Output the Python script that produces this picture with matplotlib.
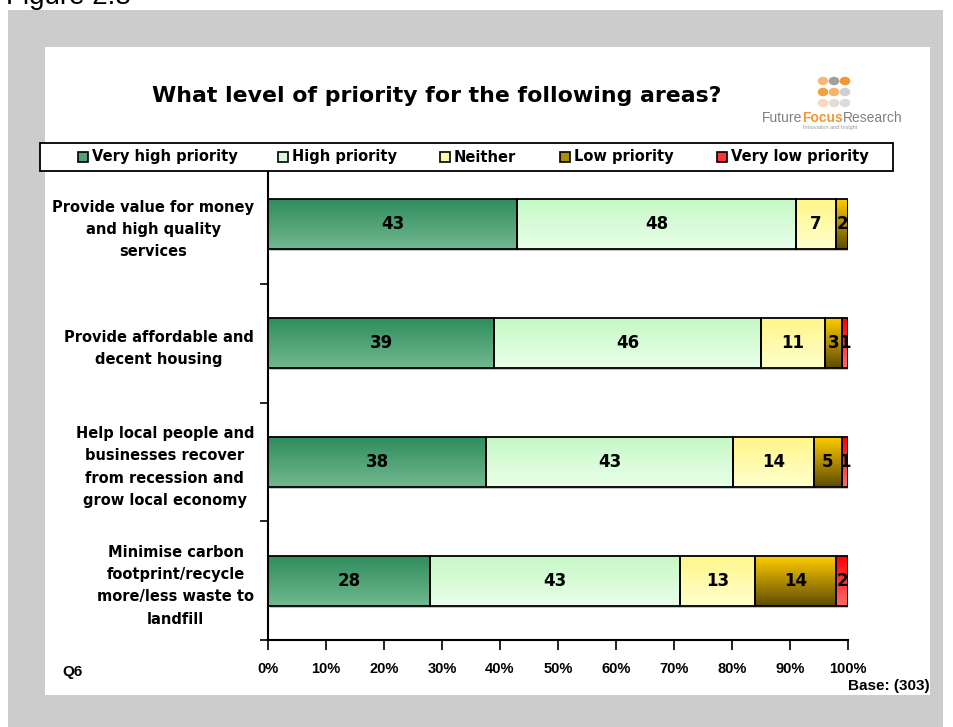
import numpy as np
import matplotlib
matplotlib.use("Agg")
import matplotlib.pyplot as plt
from matplotlib.patches import Rectangle
from matplotlib.transforms import ScaledTranslation

# ---------------- data ----------------
categories = [
    "Provide value for money\nand high quality\nservices",
    "Provide affordable and\ndecent housing",
    "Help local people and\nbusinesses recover\nfrom recession and\ngrow local economy",
    "Minimise carbon\nfootprint/recycle\nmore/less waste to\nlandfill",
]
series_names = ["Very high priority", "High priority", "Neither", "Low priority", "Very low priority"]
very_high = [43, 39, 38, 28]
high = [48, 46, 43, 43]
neither = [7, 11, 14, 13]
low = [2, 3, 5, 14]
very_low = [0, 1, 1, 2]
xtick_values = [0, 10, 20, 30, 40, 50, 60, 70, 80, 90, 100]
xtick_labels = ["0%", "10%", "20%", "30%", "40%", "50%", "60%", "70%", "80%", "90%", "100%"]

# gradient colours (top, bottom)
grads = [("#2f8d5c", "#72b891"),
         ("#c6f8c6", "#e9ffe9"),
         ("#fff68a", "#ffffcc"),
         ("#ffcc00", "#5f4c00"),
         ("#ff0000", "#ff6a6a")]

FONT = "Liberation Sans"
WIDE = "DejaVu Sans"
W, H = 954, 727

fig = plt.figure(figsize=(W / 100, H / 100), dpi=100)
fig.patch.set_facecolor("white")

def fx(x):
    return x / W

def fy(y):
    return 1 - y / H

# background panels
fig.add_artist(Rectangle((fx(8), fy(727)), fx(943) - fx(8), fy(10) - fy(727),
                         transform=fig.transFigure, facecolor="#cccccc", edgecolor="none", zorder=0))
fig.add_artist(Rectangle((fx(45), fy(695)), fx(930) - fx(45), fy(47) - fy(695),
                         transform=fig.transFigure, facecolor="white", edgecolor="none", zorder=0))

fig.text(fx(6), fy(4), "Figure 2.8", fontsize=20, family=FONT, va="baseline", ha="left",
         color="black", zorder=-1)

# title
fig.text(fx(437), fy(96), "What level of priority for the following areas?", fontsize=15.8,
         fontweight="bold", family=WIDE, ha="center", va="center")

# logo
dot_cols = [["#f8b877", "#a0a0a0", "#f39633"],
            ["#f5a040", "#f7b26e", "#d0d0d0"],
            ["#fcd9bd", "#e6dcd4", "#dcdcdc"]]
for r in range(3):
    for c in range(3):
        fig.add_artist(plt.Circle((fx(823 + 11 * c), fy(81 + 11 * r)), 4.6 / W,
                                  transform=fig.transFigure, color=dot_cols[r][c]))
t1 = fig.text(fx(762), fy(118), "Future", fontsize=10, family=FONT, color="#808080", va="center")
fig.canvas.draw()
r = fig.canvas.get_renderer()
bb = t1.get_window_extent(r)
t2 = fig.text(bb.x1 / W, fy(118), "Focus", fontsize=10, family=FONT, color="#f39633",
              fontweight="bold", va="center")
bb2 = t2.get_window_extent(r)
fig.text(bb2.x1 / W, fy(118), "Research", fontsize=10, family=FONT, color="#808080", va="center")
fig.text(fx(830), fy(127), "Innovation and Insight", fontsize=4, family=FONT, color="#999999",
         ha="center", va="center")

# legend box
fig.add_artist(Rectangle((fx(40), fy(171)), fx(893) - fx(40), fy(143) - fy(171),
                         transform=fig.transFigure, facecolor="white", edgecolor="black",
                         linewidth=1.3, zorder=1))
leg_x = [78, 278, 440, 560, 717]
for i, name in enumerate(series_names):
    mid = (np.array(matplotlib.colors.to_rgb(grads[i][0])) * 0.5 +
           np.array(matplotlib.colors.to_rgb(grads[i][1])) * 0.5)
    fig.add_artist(Rectangle((fx(leg_x[i]), fy(162)), 10 / W, 10 / H, transform=fig.transFigure,
                             facecolor=mid, edgecolor="black", linewidth=1.2, zorder=2))
    fig.text(fx(leg_x[i] + 14), fy(157), name, fontsize=10.5, fontweight="bold", family=WIDE,
             va="center", ha="left", zorder=3)

# main axes
ax = fig.add_axes([fx(268), fy(640), fx(848) - fx(268), fy(165) - fy(640)])
ax.set_facecolor("white")
ax.patch.set_alpha(0)

data = np.array([very_high, high, neither, low, very_low], dtype=float)
totals = data.sum(axis=0)
pct = data / totals * 100
ypos = np.arange(len(categories))
bh = 0.42

shadow_tr = ax.transData + ScaledTranslation(2 / 100, -2 / 100, fig.dpi_scale_trans)
ax.barh(ypos, 100, height=bh, left=0, color="#c4c4c4", edgecolor="none", zorder=1,
        transform=shadow_tr)

left = np.zeros(len(categories))
for s in range(len(series_names)):
    c0 = np.array(matplotlib.colors.to_rgb(grads[s][0]))
    c1 = np.array(matplotlib.colors.to_rgb(grads[s][1]))
    tt = np.linspace(0, 1, 64)[:, None]
    grad = (c0[None, :] * (1 - tt) + c1[None, :] * tt)[:, None, :]
    bars = ax.barh(ypos, pct[s], height=bh, left=left, facecolor="none", edgecolor="black",
                   linewidth=1.3, zorder=3)
    for j, b in enumerate(bars):
        if pct[s][j] <= 0:
            continue
        im = ax.imshow(grad, extent=(left[j], left[j] + pct[s][j], ypos[j] + bh / 2, ypos[j] - bh / 2),
                       origin="upper", aspect="auto", zorder=2, interpolation="bilinear")
        im.set_clip_path(b)
        if data[s][j] > 0:
            ax.text(left[j] + pct[s][j] / 2, ypos[j], f"{int(data[s][j])}", ha="center", va="center",
                    fontsize=12, fontweight="bold", family=WIDE, zorder=4)
    left = left + pct[s]

ax.set_xlim(0, 100)
ax.set_ylim(len(categories) - 0.5, -0.5)
ax.set_xticks(xtick_values)
ax.set_xticklabels(xtick_labels, fontsize=10.5, fontweight="bold", family=FONT)
ax.set_yticks(ypos)
ax.set_yticklabels(categories, fontsize=10.5, fontweight="bold", family=WIDE, multialignment="center",
                   linespacing=1.6)
ax.tick_params(axis="y", length=0, pad=10)
ax.set_yticks(np.arange(len(categories)) + 0.5, minor=True)
ax.tick_params(axis="y", which="minor", length=6, width=1.2, direction="out")
ax.tick_params(axis="x", length=7, width=1.2, direction="out", pad=9)
for sp in ["top", "right"]:
    ax.spines[sp].set_visible(False)
for sp in ["left", "bottom"]:
    ax.spines[sp].set_linewidth(1.5)

fig.text(fx(62), fy(672), "Q6", fontsize=11, fontweight="bold", family=FONT, va="center")
fig.text(fx(930), fy(686), "Base: (303)", fontsize=11, fontweight="bold", family=FONT,
         va="center", ha="right")

fig.savefig("out.png", dpi=100, facecolor="white")
